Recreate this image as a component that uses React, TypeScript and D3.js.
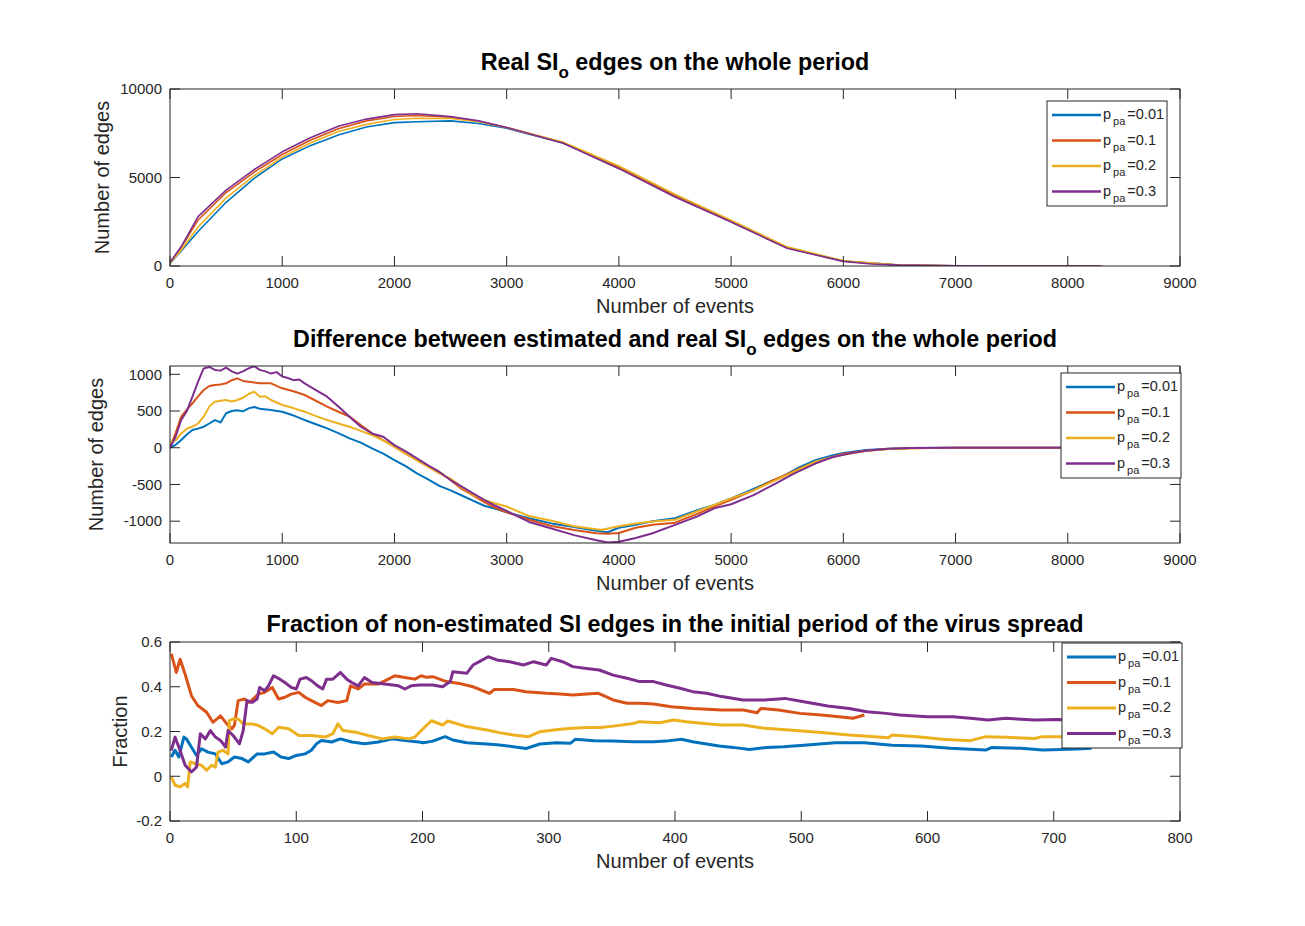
import { useEffect, useRef } from "react"
import * as d3 from "d3"

type Pt = [number, number]

// series order: p_pa = 0.01, 0.1, 0.2, 0.3
const seriesNames = ["0.01", "0.1", "0.2", "0.3"]
const seriesColors = ["#0072BD", "#D95319", "#EDB120", "#7E2F8E"]

// --- panel 1: real SI_o edges ---
const real001: Pt[] = [[0,150],[100,850],[250,1950],[500,3600],[750,4950],[1000,6050],[1250,6800],[1500,7400],[1750,7850],[2000,8100],[2200,8150],[2500,8200],[2750,8050],[3000,7780],[3500,6950],[4000,5580],[4500,4000],[5000,2540],[5500,1050],[6000,280],[6500,50],[7000,10],[8300,0]]
const real01: Pt[] = [[0,200],[100,1050],[250,2600],[500,4150],[750,5300],[1000,6300],[1250,7100],[1500,7750],[1750,8200],[2000,8450],[2200,8500],[2500,8400],[2750,8180],[3000,7820],[3500,6970],[4000,5550],[4500,3950],[5000,2500],[5500,1020],[6000,270],[6500,50],[7000,10],[8300,0]]
const real02: Pt[] = [[0,150],[100,900],[250,2200],[500,3850],[750,5100],[1000,6150],[1250,6950],[1500,7600],[1750,8000],[2000,8280],[2200,8350],[2500,8330],[2750,8150],[3000,7820],[3500,7000],[4000,5650],[4500,4050],[5000,2580],[5500,1080],[6000,300],[6500,60],[7000,10],[8300,0]]
const real03: Pt[] = [[0,200],[100,1100],[250,2790],[500,4290],[750,5450],[1000,6450],[1250,7250],[1500,7900],[1750,8300],[2000,8550],[2200,8600],[2500,8440],[2750,8200],[3000,7830],[3500,6950],[4000,5500],[4500,3900],[5000,2480],[5500,1000],[6000,260],[6250,110],[6500,50],[7000,10],[7500,0],[8300,0]]

// --- panel 2: estimated minus real ---
const diff001: Pt[] = [[0,0],[50,40],[100,105],[150,180],[200,241],[250,260],[300,286],[350,330],[400,377],[450,345],[500,470],[550,500],[600,510],[650,495],[700,536],[750,555],[800,530],[900,514],[1000,491],[1100,440],[1200,377],[1300,320],[1400,264],[1500,200],[1600,127],[1700,70],[1800,-9],[1900,-80],[2000,-168],[2100,-250],[2200,-350],[2300,-430],[2400,-520],[2500,-580],[2600,-650],[2700,-720],[2800,-790],[2900,-830],[3000,-880],[3200,-960],[3400,-1030],[3600,-1080],[3800,-1130],[3900,-1150],[4000,-1090],[4150,-1050],[4300,-1000],[4500,-960],[4700,-850],[4850,-780],[5000,-690],[5200,-560],[5350,-460],[5450,-400],[5600,-270],[5750,-170],[5900,-105],[6000,-70],[6200,-32],[6400,-13],[6600,-4],[7000,0],[8300,0]]
const diff01: Pt[] = [[0,0],[50,200],[100,423],[150,520],[200,605],[250,700],[300,786],[350,840],[400,855],[450,860],[500,877],[550,920],[600,945],[650,910],[700,900],[800,877],[900,877],[1000,809],[1100,770],[1200,718],[1300,640],[1400,560],[1500,490],[1600,423],[1700,310],[1800,195],[1900,100],[2000,14],[2100,-80],[2200,-168],[2300,-250],[2400,-330],[2500,-440],[2600,-560],[2700,-650],[2800,-740],[2900,-820],[3000,-880],[3200,-980],[3400,-1065],[3600,-1120],[3800,-1165],[3900,-1170],[4000,-1160],[4150,-1090],[4300,-1050],[4500,-1020],[4700,-900],[4850,-800],[5000,-710],[5200,-580],[5350,-460],[5450,-395],[5600,-290],[5750,-195],[5900,-130],[6000,-80],[6200,-40],[6400,-18],[6600,-8],[7000,-1],[8300,0]]
const diff02: Pt[] = [[0,80],[50,100],[100,195],[150,260],[200,286],[250,330],[300,423],[350,560],[400,627],[450,640],[500,650],[550,630],[600,650],[650,680],[700,732],[750,764],[800,695],[850,700],[900,650],[1000,582],[1100,540],[1200,491],[1300,430],[1400,377],[1500,330],[1600,286],[1700,230],[1800,173],[1900,100],[2000,14],[2100,-80],[2200,-168],[2300,-260],[2400,-350],[2500,-420],[2600,-540],[2700,-640],[2800,-710],[2900,-760],[3000,-800],[3200,-930],[3400,-995],[3600,-1070],[3800,-1110],[3850,-1117],[4000,-1070],[4150,-1030],[4300,-1005],[4500,-980],[4700,-865],[4850,-780],[5000,-690],[5200,-580],[5400,-440],[5600,-300],[5750,-190],[5900,-125],[6000,-95],[6200,-45],[6400,-18],[6600,-7],[7000,-1],[8300,0]]
const diff03: Pt[] = [[0,0],[50,150],[100,377],[150,500],[200,695],[250,900],[300,1080],[350,1100],[400,1060],[450,1050],[500,1090],[550,1040],[600,1010],[650,1040],[700,1080],[750,1110],[800,1060],[850,1040],[900,1010],[950,1030],[1000,970],[1050,950],[1100,920],[1150,930],[1200,877],[1300,786],[1400,695],[1500,560],[1600,423],[1700,286],[1800,195],[1900,150],[2000,36],[2100,-50],[2200,-145],[2300,-240],[2400,-330],[2500,-440],[2600,-530],[2700,-620],[2800,-710],[2900,-790],[3000,-860],[3200,-1010],[3400,-1100],[3600,-1190],[3800,-1260],[3900,-1290],[4000,-1280],[4150,-1230],[4300,-1165],[4500,-1050],[4700,-935],[4850,-825],[5000,-770],[5200,-645],[5400,-484],[5550,-360],[5750,-215],[5900,-130],[6050,-78],[6200,-42],[6400,-14],[6600,-5],[7000,0],[8300,0]]

// --- panel 3: fraction of non-estimated SI edges ---
const frac001: Pt[] = [[1,0.086],[4,0.116],[7,0.086],[11,0.175],[13,0.167],[17,0.13],[21,0.093],[25,0.123],[30,0.108],[36,0.1],[41,0.056],[46,0.064],[51,0.086],[57,0.079],[62,0.064],[69,0.1],[75,0.1],[82,0.108],[88,0.086],[94,0.079],[100,0.093],[107,0.1],[112,0.116],[116,0.145],[120,0.16],[128,0.153],[135,0.167],[144,0.153],[154,0.145],[165,0.153],[176,0.167],[186,0.16],[190,0.157],[197,0.153],[201,0.15],[208,0.157],[218,0.177],[224,0.162],[235,0.15],[251,0.144],[261,0.14],[272,0.132],[282,0.124],[293,0.144],[306,0.15],[317,0.147],[321,0.165],[336,0.159],[351,0.157],[367,0.154],[383,0.154],[393,0.157],[405,0.165],[414,0.154],[425,0.144],[435,0.135],[446,0.129],[459,0.12],[473,0.129],[486,0.132],[502,0.139],[527,0.15],[550,0.15],[572,0.139],[595,0.135],[618,0.125],[646,0.117],[651,0.129],[674,0.125],[691,0.117],[705,0.12],[718,0.122],[730,0.125]]
const frac01: Pt[] = [[1,0.548],[5,0.464],[8,0.523],[12,0.456],[17,0.36],[22,0.316],[29,0.286],[34,0.241],[40,0.27],[45,0.234],[49,0.212],[51,0.227],[54,0.338],[59,0.345],[63,0.33],[70,0.367],[75,0.375],[81,0.397],[86,0.345],[91,0.353],[96,0.367],[102,0.375],[107,0.353],[112,0.338],[120,0.316],[125,0.338],[133,0.33],[140,0.338],[143,0.404],[149,0.39],[154,0.412],[165,0.412],[178,0.449],[186,0.441],[194,0.434],[199,0.449],[203,0.442],[208,0.445],[219,0.423],[229,0.415],[240,0.4],[253,0.37],[257,0.388],[272,0.388],[282,0.378],[298,0.371],[309,0.368],[319,0.363],[330,0.368],[339,0.371],[351,0.341],[362,0.326],[372,0.326],[383,0.323],[397,0.311],[414,0.303],[437,0.296],[454,0.296],[465,0.284],[468,0.303],[482,0.296],[499,0.281],[516,0.274],[530,0.266],[541,0.259],[550,0.274]]
const frac02: Pt[] = [[1,-0.003],[4,-0.04],[8,-0.047],[12,-0.033],[14,-0.047],[16,0.064],[20,0.056],[25,0.049],[29,0.027],[33,0.049],[36,0.041],[38,0.108],[42,0.116],[46,0.1],[47,0.249],[50,0.256],[54,0.256],[58,0.234],[65,0.234],[70,0.227],[75,0.212],[81,0.19],[86,0.219],[94,0.212],[102,0.182],[112,0.182],[123,0.175],[129,0.19],[133,0.234],[137,0.204],[147,0.197],[157,0.182],[168,0.167],[178,0.175],[189,0.167],[194,0.175],[198,0.199],[207,0.248],[216,0.229],[220,0.247],[235,0.222],[251,0.207],[261,0.195],[272,0.184],[284,0.177],[293,0.199],[309,0.21],[319,0.214],[330,0.218],[341,0.218],[351,0.224],[367,0.236],[372,0.244],[388,0.239],[399,0.251],[409,0.244],[423,0.236],[437,0.229],[454,0.229],[471,0.214],[493,0.206],[516,0.195],[538,0.184],[558,0.177],[569,0.172],[572,0.184],[592,0.177],[612,0.165],[634,0.159],[646,0.177],[662,0.174],[685,0.169],[691,0.177],[705,0.177],[730,0.175]]
const frac03: Pt[] = [[1,0.115],[4,0.175],[8,0.115],[12,0.049],[17,0.019],[21,0.041],[24,0.19],[28,0.167],[32,0.204],[36,0.175],[40,0.16],[44,0.13],[46,0.204],[50,0.182],[55,0.145],[58,0.204],[61,0.338],[65,0.33],[69,0.345],[71,0.397],[75,0.382],[78,0.404],[82,0.449],[87,0.434],[91,0.419],[96,0.397],[100,0.39],[103,0.434],[108,0.441],[112,0.427],[117,0.404],[121,0.39],[124,0.434],[129,0.434],[135,0.464],[140,0.434],[144,0.419],[149,0.404],[154,0.441],[160,0.419],[170,0.412],[181,0.404],[186,0.39],[191,0.404],[198,0.408],[208,0.408],[216,0.4],[222,0.423],[224,0.467],[235,0.46],[240,0.497],[245,0.512],[252,0.534],[259,0.52],[269,0.512],[280,0.497],[288,0.512],[298,0.497],[302,0.527],[311,0.512],[319,0.49],[330,0.482],[340,0.475],[351,0.452],[362,0.438],[372,0.423],[383,0.423],[393,0.408],[404,0.393],[414,0.378],[425,0.371],[437,0.356],[454,0.341],[471,0.341],[487,0.348],[502,0.333],[521,0.314],[538,0.303],[552,0.288],[567,0.281],[578,0.274],[600,0.266],[620,0.266],[634,0.259],[648,0.251],[662,0.259],[685,0.251],[702,0.254],[730,0.25]]

const wholeXTicks = [0, 1000, 2000, 3000, 4000, 5000, 6000, 7000, 8000, 9000]
const initXTicks = [0, 100, 200, 300, 400, 500, 600, 700, 800]
const realYTicks = [0, 5000, 10000]
const diffYTicks = [-1000, -500, 0, 500, 1000]
const fracYTicks = [-0.2, 0, 0.2, 0.4, 0.6]

type Panel = {
  top: number
  bottom: number
  title: [string, string, string] // before subscript, subscript, after
  yLabel: string
  yLabelGap: number
  xDomain: [number, number]
  yDomain: [number, number]
  xTicks: number[]
  yTicks: number[]
  series: Pt[][]
  lineWidth: number
  legend: { x: number; y: number; lineW: number }
}

const panels: Panel[] = [
  {
    top: 89, bottom: 266,
    title: ["Real SI", "o", " edges on the whole period"],
    yLabel: "Number of edges", yLabelGap: 61,
    xDomain: [0, 9000], yDomain: [0, 10000],
    xTicks: wholeXTicks, yTicks: realYTicks,
    series: [real001, real01, real02, real03],
    lineWidth: 1.6,
    legend: { x: 1047, y: 101, lineW: 2.5 },
  },
  {
    top: 366, bottom: 543,
    title: ["Difference between estimated and real SI", "o", " edges on the whole period"],
    yLabel: "Number of edges", yLabelGap: 67,
    xDomain: [0, 9000], yDomain: [-1297, 1113],
    xTicks: wholeXTicks, yTicks: diffYTicks,
    series: [diff001, diff01, diff02, diff03],
    lineWidth: 2,
    legend: { x: 1061, y: 373, lineW: 2.5 },
  },
  {
    top: 642, bottom: 821,
    title: ["Fraction of non-estimated SI edges in the initial period of the virus spread", "", ""],
    yLabel: "Fraction", yLabelGap: 43,
    xDomain: [0, 800], yDomain: [-0.2, 0.6],
    xTicks: initXTicks, yTicks: fracYTicks,
    series: [frac001, frac01, frac02, frac03],
    lineWidth: 3,
    legend: { x: 1062, y: 643, lineW: 3 },
  },
]

const LEFT = 170
const RIGHT = 1180
const INK = "#262626"
const FONT = "'Liberation Sans', Arial, Helvetica, sans-serif"

export default function App() {
  const svgRef = useRef<SVGSVGElement>(null)

  useEffect(() => {
    if (!svgRef.current) return
    const svg = d3.select(svgRef.current)
    svg.selectAll("*").remove()

    svg.append("rect").attr("width", 1305).attr("height", 926).attr("fill", "#fff")

    panels.forEach((p, pi) => {
      const x = d3.scaleLinear().domain(p.xDomain).range([LEFT, RIGHT])
      const y = d3.scaleLinear().domain(p.yDomain).range([p.bottom, p.top])
      const g = svg.append("g").style("font-family", FONT)

      // clip for the data lines
      const clipId = `clip-${pi}`
      svg.append("clipPath").attr("id", clipId)
        .append("rect")
        .attr("x", LEFT).attr("y", p.top)
        .attr("width", RIGHT - LEFT).attr("height", p.bottom - p.top)

      const line = d3.line<Pt>().x(d => x(d[0])).y(d => y(d[1]))

      p.series.forEach((s, i) => {
        g.append("path")
          .datum(s)
          .attr("clip-path", `url(#${clipId})`)
          .attr("fill", "none")
          .attr("stroke", seriesColors[i])
          .attr("stroke-width", p.lineWidth)
          .attr("stroke-linejoin", "round")
          .attr("d", line)
      })

      // box
      g.append("rect")
        .attr("x", LEFT).attr("y", p.top)
        .attr("width", RIGHT - LEFT).attr("height", p.bottom - p.top)
        .attr("fill", "none").attr("stroke", INK).attr("stroke-width", 1)

      // x ticks (inward, top and bottom) + labels
      p.xTicks.forEach(t => {
        const xx = x(t)
        g.append("line").attr("x1", xx).attr("x2", xx).attr("y1", p.bottom).attr("y2", p.bottom - 10)
          .attr("stroke", INK)
        g.append("line").attr("x1", xx).attr("x2", xx).attr("y1", p.top).attr("y2", p.top + 10)
          .attr("stroke", INK)
        g.append("text")
          .attr("x", xx).attr("y", p.bottom + 22)
          .attr("text-anchor", "middle")
          .attr("fill", INK)
          .style("font-size", "15px")
          .text(String(t))
      })

      // y ticks (inward, left and right) + labels
      p.yTicks.forEach(t => {
        const yy = y(t)
        g.append("line").attr("x1", LEFT).attr("x2", LEFT + 10).attr("y1", yy).attr("y2", yy)
          .attr("stroke", INK)
        g.append("line").attr("x1", RIGHT).attr("x2", RIGHT - 10).attr("y1", yy).attr("y2", yy)
          .attr("stroke", INK)
        g.append("text")
          .attr("x", LEFT - 8).attr("y", yy)
          .attr("dy", "0.35em")
          .attr("text-anchor", "end")
          .attr("fill", INK)
          .style("font-size", "15px")
          .text(String(t))
      })

      // x label
      g.append("text")
        .attr("x", (LEFT + RIGHT) / 2).attr("y", p.bottom + 47)
        .attr("text-anchor", "middle")
        .attr("fill", INK)
        .style("font-size", "20px")
        .text("Number of events")

      // y label
      g.append("text")
        .attr("transform", `translate(${LEFT - p.yLabelGap},${(p.top + p.bottom) / 2}) rotate(-90)`)
        .attr("text-anchor", "middle")
        .attr("fill", INK)
        .style("font-size", "20px")
        .text(p.yLabel)

      // title with optional subscript
      const title = g.append("text")
        .attr("x", (LEFT + RIGHT) / 2)
        .attr("y", p.title[1] ? p.top - 19 : p.top - 10)
        .attr("text-anchor", "middle")
        .attr("fill", "#000")
        .style("font-size", "23.3px")
        .style("font-weight", "bold")
      title.append("tspan").text(p.title[0])
      if (p.title[1]) {
        title.append("tspan").attr("dy", 8).style("font-size", "17px").text(p.title[1])
        title.append("tspan").attr("dy", -8).text(p.title[2])
      }

      // legend
      const lg = g.append("g").attr("transform", `translate(${p.legend.x},${p.legend.y})`)
      lg.append("rect")
        .attr("width", 120).attr("height", 105)
        .attr("fill", "#fff").attr("stroke", INK).attr("stroke-width", 1)
      seriesNames.forEach((name, i) => {
        const cy = 14 + i * 25.5
        lg.append("line")
          .attr("x1", 5).attr("x2", 54).attr("y1", cy).attr("y2", cy)
          .attr("stroke", seriesColors[i]).attr("stroke-width", p.legend.lineW)
        const t = lg.append("text")
          .attr("x", 56).attr("y", cy + 4)
          .attr("fill", INK)
          .style("font-size", "14.5px")
        t.append("tspan").text("p")
        t.append("tspan").attr("dx", 2).attr("dy", 6).style("font-size", "11px").text("pa")
        t.append("tspan").attr("dx", 2).attr("dy", -6).text(`=${name}`)
      })
    })
  }, [])

  return (
    <svg
      ref={svgRef}
      width={1305}
      height={926}
      style={{ position: "absolute", left: 0, top: 0, display: "block" }}
    />
  )
}
